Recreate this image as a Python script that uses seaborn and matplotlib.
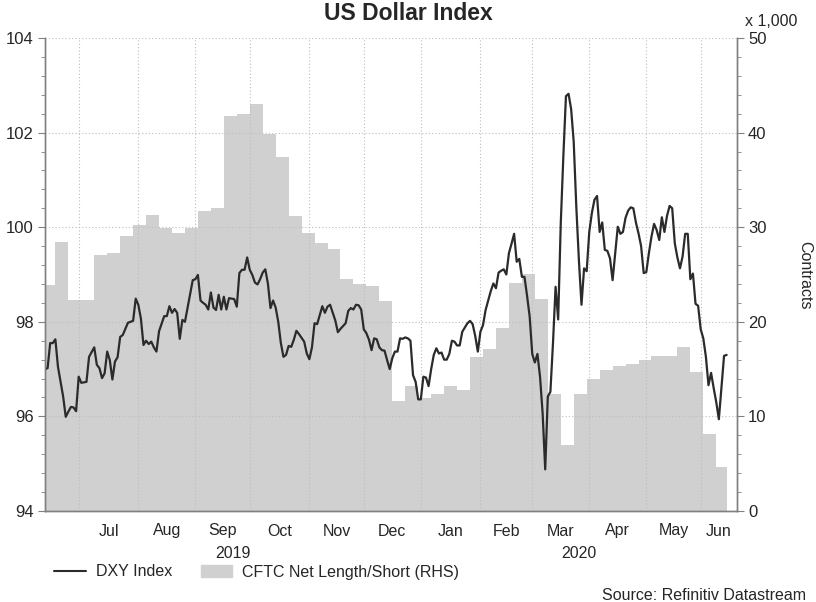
import numpy as np
import pandas as pd
import matplotlib
matplotlib.use('Agg')
import matplotlib.pyplot as plt
import seaborn as sns
from matplotlib.ticker import AutoMinorLocator, MultipleLocator
from matplotlib.lines import Line2D
from matplotlib.patches import Patch

# DXY daily close
dxy_dates = [
    '2019-06-12', '2019-06-13', '2019-06-14', '2019-06-17', '2019-06-18', '2019-06-19', '2019-06-21',
    '2019-06-24', '2019-06-25', '2019-06-26', '2019-06-27', '2019-06-28',
    '2019-07-01', '2019-07-02', '2019-07-04', '2019-07-05', '2019-07-09', '2019-07-10', '2019-07-11',
    '2019-07-12', '2019-07-15', '2019-07-16', '2019-07-17', '2019-07-18', '2019-07-19', '2019-07-22',
    '2019-07-23', '2019-07-24', '2019-07-26', '2019-07-30', '2019-07-31',
    '2019-08-01', '2019-08-02', '2019-08-05', '2019-08-06', '2019-08-07', '2019-08-08', '2019-08-09',
    '2019-08-12', '2019-08-13', '2019-08-15', '2019-08-16', '2019-08-19', '2019-08-20', '2019-08-21',
    '2019-08-22', '2019-08-23', '2019-08-26', '2019-08-27', '2019-08-28', '2019-08-29', '2019-08-30',
    '2019-09-02', '2019-09-03', '2019-09-04', '2019-09-05', '2019-09-06', '2019-09-09', '2019-09-10',
    '2019-09-11', '2019-09-12', '2019-09-13', '2019-09-16', '2019-09-17', '2019-09-18', '2019-09-19',
    '2019-09-20', '2019-09-23', '2019-09-24', '2019-09-25', '2019-09-26', '2019-09-27', '2019-09-30',
    '2019-10-01', '2019-10-02', '2019-10-03', '2019-10-04', '2019-10-07', '2019-10-08', '2019-10-09',
    '2019-10-10', '2019-10-11', '2019-10-14', '2019-10-15', '2019-10-16', '2019-10-17', '2019-10-18',
    '2019-10-21', '2019-10-22', '2019-10-23', '2019-10-24', '2019-10-25', '2019-10-28', '2019-10-30',
    '2019-10-31',
    '2019-11-01', '2019-11-04', '2019-11-05', '2019-11-06', '2019-11-07', '2019-11-08', '2019-11-11',
    '2019-11-12', '2019-11-13', '2019-11-15', '2019-11-18', '2019-11-19', '2019-11-21', '2019-11-22',
    '2019-11-25', '2019-11-26', '2019-11-27', '2019-11-28', '2019-11-29',
    '2019-12-02', '2019-12-03', '2019-12-04', '2019-12-05', '2019-12-06', '2019-12-09', '2019-12-10',
    '2019-12-11', '2019-12-12', '2019-12-13', '2019-12-16', '2019-12-17', '2019-12-18', '2019-12-19',
    '2019-12-20', '2019-12-23', '2019-12-24', '2019-12-25', '2019-12-26', '2019-12-27', '2019-12-30',
    '2019-12-31',
    '2020-01-01', '2020-01-02', '2020-01-03', '2020-01-06', '2020-01-07', '2020-01-08', '2020-01-09',
    '2020-01-10', '2020-01-13', '2020-01-14', '2020-01-15', '2020-01-16', '2020-01-17', '2020-01-20',
    '2020-01-21', '2020-01-22', '2020-01-23', '2020-01-24', '2020-01-27', '2020-01-28', '2020-01-29',
    '2020-01-30', '2020-01-31',
    '2020-02-03', '2020-02-04', '2020-02-05', '2020-02-06', '2020-02-07', '2020-02-10', '2020-02-11',
    '2020-02-12', '2020-02-13', '2020-02-14', '2020-02-17', '2020-02-18', '2020-02-19', '2020-02-20',
    '2020-02-21', '2020-02-24', '2020-02-25', '2020-02-26', '2020-02-27', '2020-02-28',
    '2020-03-02', '2020-03-03', '2020-03-04', '2020-03-05', '2020-03-06', '2020-03-09', '2020-03-10',
    '2020-03-11', '2020-03-12', '2020-03-13', '2020-03-16', '2020-03-17', '2020-03-18', '2020-03-19',
    '2020-03-20', '2020-03-23', '2020-03-24', '2020-03-25', '2020-03-26', '2020-03-27', '2020-03-30',
    '2020-03-31',
    '2020-04-01', '2020-04-02', '2020-04-03', '2020-04-06', '2020-04-07', '2020-04-08', '2020-04-09',
    '2020-04-10', '2020-04-13', '2020-04-14', '2020-04-16', '2020-04-17', '2020-04-20', '2020-04-21',
    '2020-04-22', '2020-04-23', '2020-04-24', '2020-04-27', '2020-04-28', '2020-04-29', '2020-04-30',
    '2020-05-01', '2020-05-04', '2020-05-05', '2020-05-06', '2020-05-07', '2020-05-08', '2020-05-11',
    '2020-05-12', '2020-05-13', '2020-05-14', '2020-05-15', '2020-05-18', '2020-05-19', '2020-05-20',
    '2020-05-21', '2020-05-22', '2020-05-25', '2020-05-26', '2020-05-27', '2020-05-28', '2020-05-29',
    '2020-06-01', '2020-06-02', '2020-06-03', '2020-06-04', '2020-06-05', '2020-06-08', '2020-06-09',
    '2020-06-10', '2020-06-11', '2020-06-12', '2020-06-15',
]
dxy_values = [
    97.00, 97.02, 97.55, 97.55, 97.63, 97.05, 96.42,
    95.99, 96.10, 96.20, 96.19, 96.11,
    96.84, 96.71, 96.73, 97.26, 97.46, 97.09, 97.02,
    96.81, 96.91, 97.37, 97.19, 96.78, 97.16, 97.25,
    97.68, 97.72, 97.98, 98.02, 98.49,
    98.36, 98.07, 97.51, 97.60, 97.53, 97.58, 97.46,
    97.37, 97.80, 98.12, 98.12, 98.33, 98.19, 98.27,
    98.19, 97.64, 98.04, 98.00, 98.29, 98.57, 98.88,
    98.90, 98.99, 98.45, 98.40, 98.36, 98.26, 98.62,
    98.30, 98.25, 98.57, 98.26, 98.53, 98.26, 98.50,
    98.49, 98.48, 98.32, 99.03, 99.10, 99.10, 99.36,
    99.10, 98.99, 98.83, 98.79, 98.90, 99.04, 99.11,
    98.81, 98.29, 98.45, 98.30, 98.00, 97.55, 97.26,
    97.30, 97.49, 97.47, 97.62, 97.81, 97.74, 97.58,
    97.33,
    97.21, 97.46, 97.97, 97.95, 98.14, 98.33, 98.19,
    98.32, 98.36, 98.03, 97.78, 97.85, 97.97, 98.23,
    98.29, 98.26, 98.36, 98.35, 98.26,
    97.84, 97.76, 97.62, 97.40, 97.65, 97.63, 97.46,
    97.40, 97.39, 97.19, 97.00, 97.23, 97.37, 97.37,
    97.65, 97.64, 97.67, 97.65, 97.60, 96.87, 96.73,
    96.36,
    96.36, 96.84, 96.82, 96.64, 97.00, 97.30, 97.44,
    97.33, 97.35, 97.20, 97.20, 97.32, 97.60, 97.58,
    97.50, 97.50, 97.79, 97.88, 97.97, 98.02, 97.95,
    97.70, 97.37,
    97.79, 97.93, 98.25, 98.45, 98.65, 98.81, 98.71,
    99.04, 99.08, 99.11, 99.00, 99.45, 99.65, 99.86,
    99.27, 99.33, 98.95, 98.95, 98.55, 98.11,
    97.32, 97.14, 97.32, 96.84, 96.07, 94.88, 96.42,
    96.52, 97.55, 98.74, 98.05, 100.08, 101.50, 102.77,
    102.82, 102.50, 101.80, 100.43, 99.30, 98.36, 99.13,
    99.07,
    99.90, 100.30, 100.58, 100.66, 99.90, 100.10, 99.52,
    99.50, 99.34, 98.88, 100.01, 99.86, 99.90, 100.20,
    100.35, 100.42, 100.40, 100.10, 99.87, 99.60, 99.03,
    99.05, 99.45, 99.80, 100.07, 99.94, 99.73, 100.21,
    99.90, 100.24, 100.45, 100.40, 99.66, 99.36, 99.13,
    99.38, 99.86, 99.86, 98.90, 99.02, 98.38, 98.34,
    97.84, 97.65, 97.26, 96.66, 96.92, 96.60, 96.30,
    95.94, 96.60, 97.28, 97.30,
]

# CFTC net positioning, weekly (Tuesdays), thousands of contracts
cftc_dates = pd.date_range('2019-06-11', '2020-06-09', freq='W-TUE').strftime('%Y-%m-%d').tolist()
cftc_values = [
    23.9, 28.4, 22.3, 22.3, 27.1, 27.3, 29.1, 30.2, 31.3, 29.9,
    29.4, 29.9, 31.7, 32.0, 41.8, 42.0, 43.0, 39.9, 37.4, 31.2,
    29.4, 28.3, 27.7, 24.5, 24.0, 23.8, 22.2, 11.6, 13.2, 11.9,
    12.4, 13.2, 12.8, 16.3, 17.1, 19.3, 24.1, 25.1, 22.4, 12.4,
    7.0, 12.4, 14.0, 14.9, 15.3, 15.5, 16.0, 16.4, 16.4, 17.3,
    14.7, 8.1, 4.6,
]
cftc_last_day = '2020-06-15'

months = ['Jul', 'Aug', 'Sep', 'Oct', 'Nov', 'Dec', 'Jan', 'Feb', 'Mar', 'Apr', 'May', 'Jun']
month_starts = ['2019-07-01', '2019-08-01', '2019-09-01', '2019-10-01', '2019-11-01', '2019-12-01',
                '2020-01-01', '2020-02-01', '2020-03-01', '2020-04-01', '2020-05-01', '2020-06-01']
years = ['2019', '2020']

start_day = '2019-06-12'
end_day = '2020-06-19'


def bday(d):
    # position on a trading-day (weekday) axis, as Datastream draws it
    return np.busday_count(start_day, np.array(d, dtype='datetime64[D]'))


sns.set_style('white')
plt.rcParams['font.family'] = ['Liberation Sans', 'DejaVu Sans']

grey = '#808080'
fill_col = '#d0d0d0'
line_col = '#2b2b2b'
fs = 11.5

fig = plt.figure(figsize=(8.16, 6.02), dpi=100)
ax = fig.add_axes([45 / 816, 91 / 602, 692 / 816, 473 / 602])
ax2 = ax.twinx()
ax.set_zorder(ax2.get_zorder() + 1)
ax.patch.set_visible(False)

# weekly step area on the right axis
cx = np.append(bday(cftc_dates), bday(cftc_last_day))
cy = cftc_values + [cftc_values[-1]]
ax2.fill_between(cx, cy, step='post', color=fill_col, lw=0)

df = pd.DataFrame({'x': bday(dxy_dates), 'DXY': dxy_values})
sns.lineplot(data=df, x='x', y='DXY', ax=ax, color=line_col, lw=1.6)

x_end = bday(end_day)
ax.set_xlim(0, x_end)
ax.set_ylim(94, 104)
ax2.set_ylim(0, 50)
ax.set_xlabel('')
ax.set_ylabel('')

# month boundaries as ticks, month names centred in between
edges = bday(month_starts)
mids = (edges + np.append(edges[1:], x_end)) / 2
ax.set_xticks(edges)
ax.set_xticklabels([])
ax.set_xticks(mids, minor=True)
ax.set_xticklabels(months, minor=True)
ax.tick_params(axis='x', which='major', length=5, color=grey, direction='out')
ax.tick_params(axis='x', which='minor', length=0, pad=9, labelsize=fs)

year_break = bday('2020-01-01')
for label, (a, b) in zip(years, [(0, year_break), (year_break, x_end)]):
    ax.text((a + b) / 2, -0.089, label, transform=ax.get_xaxis_transform(),
            ha='center', va='center', fontsize=fs)

ax.yaxis.set_major_locator(MultipleLocator(2))
ax.yaxis.set_minor_locator(AutoMinorLocator(5))
ax2.yaxis.set_major_locator(MultipleLocator(10))
ax2.yaxis.set_minor_locator(AutoMinorLocator(5))
for a in (ax, ax2):
    a.tick_params(axis='y', which='major', length=5, color=grey, direction='out', labelsize=fs + 0.5, pad=3)
    a.tick_params(axis='y', which='minor', length=3, color=grey, direction='out')
    for s in a.spines.values():
        s.set_color(grey)
        s.set_linewidth(1.0)
    a.spines['top'].set_visible(False)

ax.grid(True, which='major', axis='both', color='#bdbdbd', linestyle=(0, (1, 2)), lw=0.8)
ax2.grid(False)

fig.text(0.5, 1 - 14 / 602, 'US Dollar Index', ha='center', va='center', fontsize=16.5, fontweight='bold')
fig.text(745 / 816, 1 - 21 / 602, 'x 1,000', ha='left', va='center', fontsize=fs)
fig.text(805 / 816, 1 - 275 / 602, 'Contracts', ha='center', va='center', rotation=270, fontsize=fs)
fig.text(806 / 816, 1 - 595 / 602, 'Source: Refinitiv Datastream', ha='right', va='center', fontsize=fs)

handles = [Line2D([], [], color=line_col, lw=1.5), Patch(color=fill_col)]
fig.legend(handles, ['DXY Index', 'CFTC Net Length/Short (RHS)'], loc='center left',
           bbox_to_anchor=(54 / 816, 1 - 572 / 602), ncol=2, frameon=False, fontsize=fs,
           handlelength=2.0, handletextpad=0.6, columnspacing=1.8, borderaxespad=0, borderpad=0)

fig.savefig('out.png', dpi=100)
